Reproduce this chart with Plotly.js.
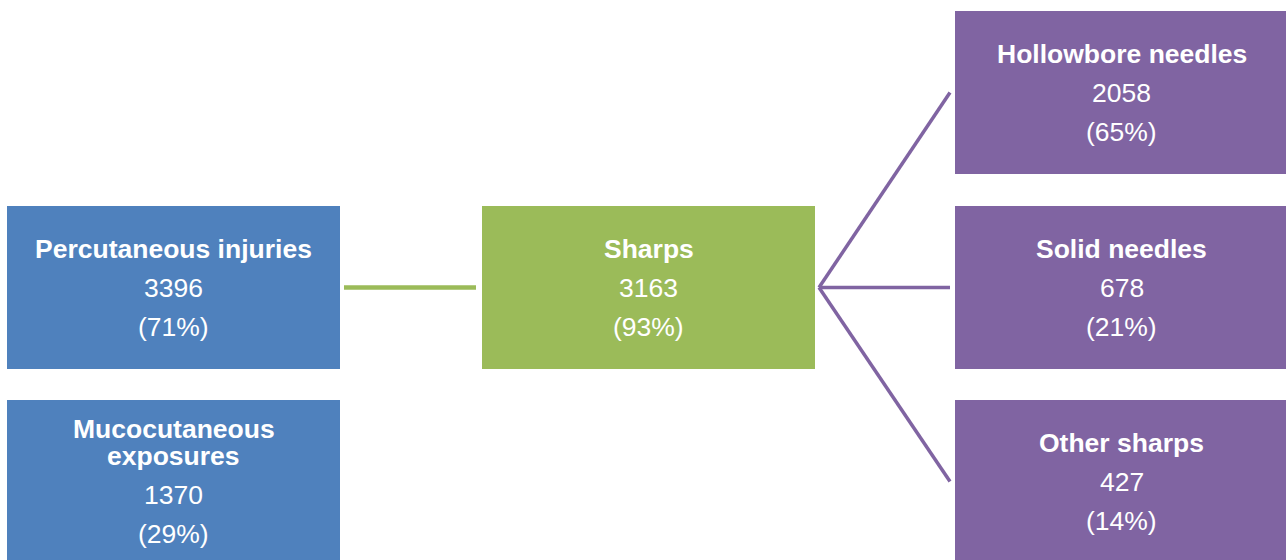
<!DOCTYPE html>
<html>
<head>
<meta charset="utf-8">
<script src="https://cdn.plot.ly/plotly-3.0.1.min.js"></script>
<style>html,body{margin:0;padding:0;background:#fff;}#chart{width:1286px;height:560px;}</style>
</head>
<body>
<div id="chart"></div>
<script>
// ---- data ----
var nodeTitles = ["Percutaneous injuries", "Mucocutaneous\nexposures", "Sharps", "Hollowbore needles", "Solid needles", "Other sharps"];
var nodeCounts = [3396, 1370, 3163, 2058, 678, 427];
var nodePercents = [71, 29, 93, 65, 21, 14];
var linkSources = [0, 2, 2, 2];
var linkTargets = [2, 3, 4, 5];

// ---- layout (positions / styles) ----
var boxX = [7, 7, 482, 955, 955, 955];      // left edges
var boxY = [206, 400, 206, 11, 206, 400];    // top edges
var boxW = 333, boxH = 163;
var boxColor = ["#4F81BD", "#4F81BD", "#9BBB59", "#8064A2", "#8064A2", "#8064A2"];
var linkColor = ["#9BBB59", "#8064A2", "#8064A2", "#8064A2"];
var linkWidth = [4.5, 3.5, 3.5, 3.5];
var gap = 4;
var fontFam = "Liberation Sans, Arial, sans-serif";
var fsize = 26.5;

var shapes = [], annotations = [];
for (var i = 0; i < nodeTitles.length; i++) {
  shapes.push({type: "rect", xref: "x", yref: "y", x0: boxX[i], x1: boxX[i] + boxW, y0: boxY[i], y1: boxY[i] + boxH,
    fillcolor: boxColor[i], line: {width: 0}, layer: "below"});
  var cx = boxX[i] + boxW / 2, cy = boxY[i] + boxH / 2;
  var tl = nodeTitles[i].split("\n");
  var lines = [];
  tl.forEach(function (t) { lines.push({text: "<b>" + t + "</b>", h: 27}); });
  lines.push({text: String(nodeCounts[i]), h: 39});
  lines.push({text: "(" + nodePercents[i] + "%)", h: 39});
  var ys = [0];
  for (var k = 1; k < lines.length; k++) ys.push(ys[k - 1] + lines[k].h);
  var mid = (ys[0] + ys[ys.length - 1]) / 2;
  for (var k = 0; k < lines.length; k++) {
    annotations.push({xref: "x", yref: "y", x: cx, y: cy - mid + ys[k], text: lines[k].text,
      showarrow: false, xanchor: "center", yanchor: "middle",
      font: {family: fontFam, size: fsize, color: "#FFFFFF"}});
  }
}
for (var j = 0; j < linkSources.length; j++) {
  var s = linkSources[j], t = linkTargets[j];
  var sy = boxY[s] + boxH / 2, ty = boxY[t] + boxH / 2;
  shapes.push({type: "line", xref: "x", yref: "y",
    x0: boxX[s] + boxW + gap, y0: sy, x1: boxX[t] - gap - (j === 0 ? 2 : 1), y1: ty,
    line: {color: linkColor[j], width: linkWidth[j]}});
}

Plotly.newPlot("chart", [{x: [], y: [], type: "scatter", hoverinfo: "skip"}], {
  width: 1286, height: 560,
  margin: {l: 0, r: 0, t: 0, b: 0},
  paper_bgcolor: "#FFFFFF", plot_bgcolor: "#FFFFFF",
  showlegend: false,
  xaxis: {range: [0, 1286], visible: false, fixedrange: true},
  yaxis: {range: [560, 0], visible: false, fixedrange: true},
  shapes: shapes,
  annotations: annotations
}, {displayModeBar: false, staticPlot: true});
</script>
</body>
</html>
